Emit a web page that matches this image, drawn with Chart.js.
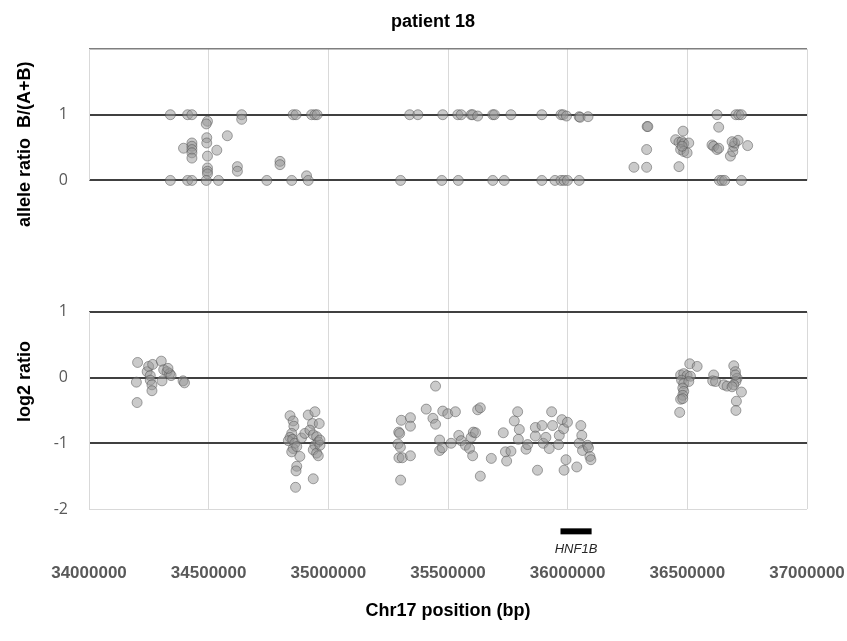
<!DOCTYPE html>
<html>
<head>
<meta charset="utf-8">
<title>patient 18</title>
<script src="https://cdn.jsdelivr.net/npm/chart.js@4.4.1/dist/chart.umd.min.js"></script>
<style>
  html, body { margin: 0; padding: 0; background: #fff; }
  #chart { display: block; }
</style>
</head>
<body>
<canvas id="chart" width="847" height="641"></canvas>
<script>
// ─── Data ─────────────────────────────────────────────────
// upper panel: B-allele ratio B/(A+B) per SNP
const allelePos = [
  34340000, 34412000, 34430000, 34638000, 34853000, 34865000, 34930000, 34944000, 34953000,
  35340000, 35374000, 35478000, 35541000, 35555000, 35597000, 35603000, 35624000, 35687000,
  35694000, 35763000, 35892000, 35972000, 35981000, 35995000, 36048000, 36052000, 36085000,
  36624000, 36703000, 36715000, 36726000,
  34495000, 34490000, 34638000,
  34578000, 34492000, 34492000, 34430000, 34395000, 34430000, 34430000, 34430000, 34430000,
  34534000, 34495000, 34495000, 34495000, 34495000, 34620000, 34620000, 34798000, 34798000, 34909000,
  34340000, 34412000, 34430000, 34490000, 34541000, 34743000, 34847000, 34916000,
  35302000, 35474000, 35543000, 35687000, 35735000, 35892000, 35947000, 35972000, 35985000,
  35999000, 36048000, 36634000, 36645000, 36656000, 36726000,
  36332000, 36335000, 36330000, 36277000, 36330000, 36465000, 36482000, 36451000, 36465000,
  36478000, 36485000, 36506000, 36472000, 36485000, 36499000, 36478000, 36631000, 36603000,
  36610000, 36624000, 36631000, 36680000, 36690000, 36694000, 36698000, 36712000, 36752000, 36687000
];
const alleleRatio = [
  1, 1, 1, 1, 1, 1, 1, 1, 1,
  1, 1, 1, 1, 1, 1, 1, 0.98, 1,
  1, 1, 1, 1, 1, 0.98, 0.97, 0.96, 0.97,
  1, 1, 1, 1,
  0.90, 0.86, 0.93,
  0.68, 0.65, 0.57, 0.57, 0.49, 0.52, 0.47, 0.42, 0.34,
  0.46, 0.37, 0.19, 0.14, 0.10, 0.21, 0.14, 0.29, 0.24, 0.07,
  0, 0, 0, 0, 0, 0, 0, 0,
  0, 0, 0, 0, 0, 0, 0, 0, 0,
  0, 0, 0, 0, 0, 0,
  0.82, 0.82, 0.47, 0.20, 0.20, 0.21, 0.75, 0.62, 0.58,
  0.59, 0.56, 0.57, 0.47, 0.44, 0.42, 0.52, 0.81, 0.54,
  0.52, 0.47, 0.49, 0.37, 0.44, 0.52, 0.57, 0.61, 0.53, 0.59
];

// lower panel: log2 ratio per probe
const log2Pos = [
  34203000, 34198000, 34201000, 34243000, 34249000, 34266000, 34256000, 34256000, 34263000, 34263000,
  34302000, 34312000, 34326000, 34337000, 34343000, 34305000, 34393000, 34399000, 34330000,
  34840000, 34853000, 34856000, 34847000, 34840000, 34833000, 34851000, 34860000, 34853000, 34847000,
  34868000, 34881000, 34868000, 34865000, 34863000, 34888000, 34902000, 34916000, 34934000, 34944000,
  34962000, 34923000, 34937000, 34951000, 34958000, 34944000, 34937000, 34951000, 34958000, 34937000,
  34965000, 34965000,
  35294000, 35298000, 35291000, 35301000, 35295000, 35309000, 35302000, 35305000, 35343000, 35343000,
  35343000, 35409000, 35448000, 35437000, 35448000, 35478000, 35499000, 35531000, 35465000, 35465000,
  35476000, 35513000, 35545000, 35555000, 35573000, 35590000, 35603000, 35597000, 35606000, 35615000,
  35624000, 35635000, 35635000, 35681000, 35731000, 35740000, 35745000, 35763000, 35791000, 35777000,
  35798000, 35794000, 35826000, 35833000, 35865000, 35865000, 35874000, 35893000, 35898000, 35909000,
  35923000, 35933000, 35937000, 35962000, 35965000, 35976000, 35983000, 35999000, 35993000, 35985000,
  36038000, 36055000, 36059000, 36048000, 36062000, 36083000, 36087000, 36093000, 36097000,
  36510000, 36541000, 36472000, 36485000, 36499000, 36513000, 36476000, 36485000, 36506000, 36481000,
  36485000, 36481000, 36472000, 36481000, 36468000, 36610000, 36606000, 36618000, 36652000, 36666000,
  36694000, 36701000, 36708000, 36703000, 36694000, 36687000, 36726000, 36705000, 36703000, 36701000
];
const log2Ratio = [
  0.23, -0.07, -0.38, 0.09, 0.17, 0.20, 0.03, -0.04, -0.11, -0.20,
  0.25, 0.12, 0.09, 0.06, 0.03, -0.05, -0.05, -0.08, 0.14,
  -0.58, -0.66, -0.74, -0.85, -0.91, -0.96, -0.94, -1.00, -1.08, -1.13,
  -1.05, -1.20, -1.35, -1.42, -1.67, -0.92, -0.85, -0.57, -0.70, -0.52,
  -0.70, -0.80, -0.87, -0.90, -0.98, -1.03, -1.10, -1.15, -1.19, -1.54,
  -1.03, -0.95,
  -0.83, -0.85, -1.01, -1.06, -1.22, -1.22, -1.56, -0.65, -0.61, -0.74,
  -1.19, -0.48, -0.13, -0.62, -0.71, -0.51, -0.55, -0.52, -0.95, -1.11,
  -1.07, -1.00, -0.88, -0.96, -1.03, -1.08, -1.19, -0.91, -0.83, -0.84,
  -0.49, -0.46, -1.50, -1.23, -0.84, -1.13, -1.27, -1.12, -0.52, -0.66,
  -0.79, -0.94, -1.09, -1.02, -0.76, -0.89, -1.41, -0.73, -1.00, -0.91,
  -1.08, -0.52, -0.73, -1.02, -0.88, -0.64, -0.78, -0.68, -1.25, -1.41,
  -1.36, -0.73, -0.88, -1.00, -1.11, -1.03, -1.07, -1.20, -1.25,
  0.21, 0.17, 0.04, 0.06, 0.03, 0.02, -0.04, -0.09, -0.06, -0.16,
  -0.21, -0.27, -0.33, -0.32, -0.53, 0.04, -0.05, -0.06, -0.11, -0.13,
  0.18, 0.09, -0.01, -0.06, -0.11, -0.14, -0.22, -0.36, -0.50, 0.04
];

// gene annotation
const geneName = 'HNF1B';
const geneSpan = [35970000, 36100000];

// axis ticks: both panels share one value axis, upper panel sits 3 units higher
const xTicks = [34000000, 34500000, 35000000, 35500000, 36000000, 36500000, 37000000];
const yTickValues = [-2, -1, 0, 1, 3, 4];
const yTickLabels = ['-2', '-1', '0', '1', '0', '1'];
const upperOffset = 3;

// ─── Helpers ──────────────────────────────────────────────
const toPoints = (xs, ys, off = 0) => xs.map((x, i) => ({ x, y: ys[i] + off }));
const darkLines = [-1, 0, 1, 3, 4];

const markerStyle = {
  pointRadius: 5,
  pointHoverRadius: 5,
  pointBackgroundColor: 'rgba(150,150,150,0.5)',
  pointBorderColor: 'rgba(80,80,80,0.5)',
  pointBorderWidth: 1,
  showLine: false
};

// panel frames + free text
const panelDecor = {
  id: 'panelDecor',
  beforeDatasetsDraw(chart) {
    const { ctx, scales: { x, y } } = chart;
    ctx.save();
    ctx.strokeStyle = '#d9d9d9';
    ctx.lineWidth = 1;
    [[-2, 1], [3, 5]].forEach(([lo, hi]) => {
      [x.min, x.max].forEach(v => {
        const px = Math.round(x.getPixelForValue(v)) + 0.5;
        ctx.beginPath();
        ctx.moveTo(px, y.getPixelForValue(lo));
        ctx.lineTo(px, y.getPixelForValue(hi));
        ctx.stroke();
      });
    });
    ctx.restore();
  },
  afterDraw(chart) {
    const { ctx, scales: { x, y } } = chart;
    ctx.save();
    // gene bar
    const gy = y.getPixelForValue(-2.34);
    ctx.fillStyle = '#000';
    ctx.fillRect(x.getPixelForValue(geneSpan[0]), gy - 3, x.getPixelForValue(geneSpan[1]) - x.getPixelForValue(geneSpan[0]), 6);
    ctx.font = 'italic 13px "Liberation Sans", Arial, sans-serif';
    ctx.fillStyle = '#262626';
    ctx.textAlign = 'center';
    ctx.textBaseline = 'middle';
    ctx.fillText(geneName, x.getPixelForValue((geneSpan[0] + geneSpan[1]) / 2), y.getPixelForValue(-2.61));

    // title
    ctx.font = 'bold 18px "Liberation Sans", Arial, sans-serif';
    ctx.fillStyle = '#000';
    ctx.fillText('patient 18', 433, 22);

    // value axis titles
    ctx.font = 'bold 18px "Liberation Sans", Arial, sans-serif';
    ctx.translate(25, 0);
    ctx.rotate(-Math.PI / 2);
    ctx.fillText('allele ratio  B/(A+B)', -y.getPixelForValue(3.55), 0);
    ctx.fillText('log2 ratio', -y.getPixelForValue(-0.06), 0);
    ctx.restore();
  }
};

// ─── Chart ────────────────────────────────────────────────
new Chart(document.getElementById('chart'), {
  type: 'scatter',
  data: {
    datasets: [
      { label: 'allele ratio B/(A+B)', data: toPoints(allelePos, alleleRatio, upperOffset), ...markerStyle },
      { label: 'log2 ratio', data: toPoints(log2Pos, log2Ratio), ...markerStyle }
    ]
  },
  options: {
    responsive: false,
    animation: false,
    layout: { padding: { top: 49, right: 40, left: 0, bottom: 0 } },
    plugins: {
      legend: { display: false },
      tooltip: { enabled: false }
    },
    scales: {
      x: {
        type: 'linear',
        min: xTicks[0],
        max: xTicks[xTicks.length - 1],
        afterBuildTicks: s => { s.ticks = xTicks.map(v => ({ value: v })); },
        afterFit: s => { s.height = 132; s.paddingLeft = 0; s.paddingRight = 0; },
        ticks: {
          padding: 54,
          maxRotation: 0,
          color: '#595959',
          font: { family: '"Liberation Sans", Arial, sans-serif', size: 17, weight: 'bold' },
          callback: v => String(v)
        },
        grid: {
          drawTicks: false,
          lineWidth: 1,
          color: c => (c.tick && (c.tick.value === xTicks[0] || c.tick.value === xTicks[xTicks.length - 1])) ? 'rgba(0,0,0,0)' : '#d9d9d9'
        },
        border: { display: false },
        title: {
          display: true,
          text: 'Chr17 position (bp)',
          color: '#000',
          font: { family: '"Liberation Sans", Arial, sans-serif', size: 18, weight: 'bold' },
          padding: { top: 0, bottom: 19 }
        }
      },
      y: {
        min: -2,
        max: 5,
        afterBuildTicks: s => { s.ticks = [-2, -1, 0, 1, 2, 3, 4, 5].map(v => ({ value: v })); },
        afterFit: s => { s.width = 89; s.paddingTop = 0; s.paddingBottom = 0; },
        ticks: {
          padding: 21,
          color: '#595959',
          font: { family: '"Open Sans", "Liberation Sans", sans-serif', size: 16 },
          callback: v => {
            const i = yTickValues.indexOf(v);
            return i < 0 ? '' : yTickLabels[i];
          }
        },
        grid: {
          drawTicks: false,
          color: c => {
            const v = c.tick ? c.tick.value : null;
            if (darkLines.includes(v)) return '#404040';
            if (v === 5) return '#7f7f7f';
            if (v === -2) return '#d9d9d9';
            return 'rgba(0,0,0,0)';
          },
          lineWidth: c => {
            const v = c.tick ? c.tick.value : null;
            if (darkLines.includes(v)) return 2;
            if (v === 5) return 1.5;
            return 1;
          }
        },
        border: { display: false }
      }
    }
  },
  plugins: [panelDecor]
});
</script>
</body>
</html>
